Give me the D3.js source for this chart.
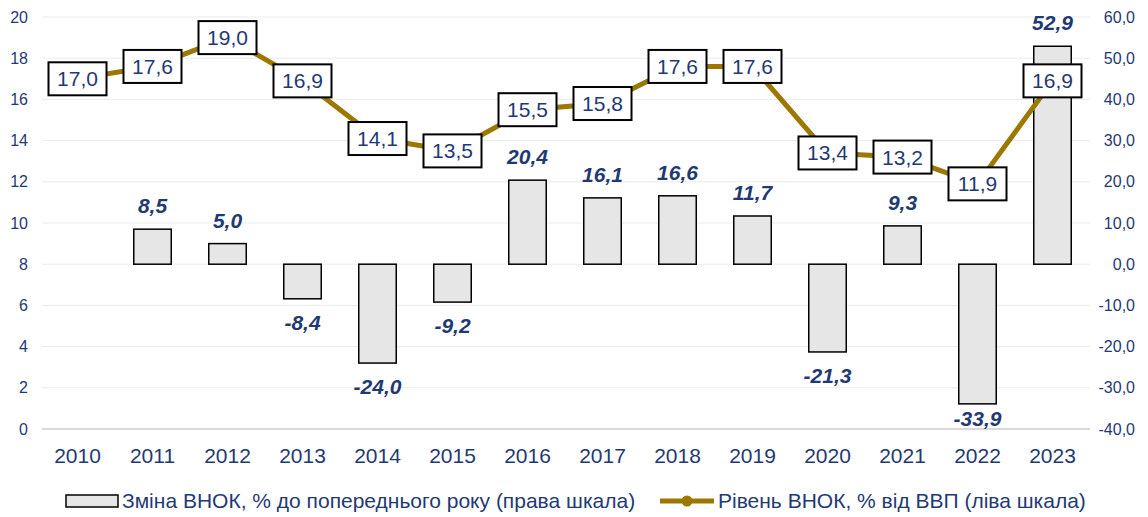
<!DOCTYPE html>
<html>
<head>
<meta charset="utf-8">
<script src="https://cdn.jsdelivr.net/npm/d3@7"></script>
<style>
  body { margin: 0; background: #fff; }
  text { font-family: "Liberation Sans", Arial, sans-serif; }
</style>
</head>
<body>
<svg id="chart"></svg>
<script>
const years = ['2010','2011','2012','2013','2014','2015','2016','2017','2018','2019','2020','2021','2022','2023']
// change of gross fixed capital formation, % to previous year (right scale)
const changeValues = [null, 8.5, 5.0, -8.4, -24.0, -9.2, 20.4, 16.1, 16.6, 11.7, -21.3, 9.3, -33.9, 52.9]
// level of GFCF, % of GDP (left scale)
const levelValues = [17.0, 17.6, 19.0, 16.9, 14.1, 13.5, 15.5, 15.8, 17.6, 17.6, 13.4, 13.2, 11.9, 16.9]
const leftTicks = [0, 2, 4, 6, 8, 10, 12, 14, 16, 18, 20]
const rightTicks = [-40, -30, -20, -10, 0, 10, 20, 30, 40, 50, 60]
const legendBar = 'Зміна ВНОК, % до попереднього року (права шкала)'
const legendLine = 'Рівень ВНОК, % від ВВП (ліва шкала)'

const width = 1148, height = 517
const margin = {top: 17, bottom: 88, left: 40, right: 58}
const navy = '#1f3a73', gold = '#9c7800'
const fmt = v => v.toFixed(1).replace('.', ',')

const svg = d3.select('#chart')
  .attr('width', width)
  .attr('height', height)

const xScale = d3.scaleBand()
  .domain(years)
  .range([margin.left, width - margin.right])
const yLeft = d3.scaleLinear()
  .domain([0, 20])
  .range([height - margin.bottom, margin.top])
const yRight = d3.scaleLinear()
  .domain([-40, 60])
  .range([height - margin.bottom, margin.top])

// gridlines
svg.append('g')
  .selectAll('line')
  .data(leftTicks)
  .enter().append('line')
    .attr('x1', margin.left + 2)
    .attr('x2', width - margin.right)
    .attr('y1', d => yLeft(d))
    .attr('y2', d => yLeft(d))
    .attr('stroke', d => d === 0 ? '#d9d9d9' : '#ebebeb')
    .attr('stroke-width', d => d === 0 ? 2 : 1)

// left axis
const leftAxis = svg.append('g')
  .attr('transform', `translate(${margin.left - 12}, 0)`)
  .call(d3.axisLeft(yLeft).tickValues(leftTicks).tickSize(0).tickPadding(0))
leftAxis.select('.domain').remove()
leftAxis.selectAll('text')
  .attr('fill', navy)
  .style('font-size', '16px')

// right axis
const rightAxis = svg.append('g')
  .attr('transform', `translate(${width - 13}, 0)`)
  .call(d3.axisLeft(yRight).tickValues(rightTicks).tickFormat(fmt).tickSize(0).tickPadding(0))
rightAxis.select('.domain').remove()
rightAxis.selectAll('text')
  .attr('fill', navy)
  .style('font-size', '16px')

// x axis
const xAxis = svg.append('g')
  .attr('transform', `translate(0, ${height - margin.bottom + 13})`)
  .call(d3.axisBottom(xScale).tickSize(0).tickPadding(6))
xAxis.select('.domain').remove()
xAxis.selectAll('text')
  .attr('fill', navy)
  .style('font-size', '21px')

// bars
const barData = years.map((y, i) => ({year: y, v: changeValues[i]})).filter(d => d.v !== null)
const barW = xScale.bandwidth() * 0.5

svg.append('g')
  .selectAll('rect')
  .data(barData)
  .enter().append('rect')
    .attr('x', d => xScale(d.year) + (xScale.bandwidth() - barW) / 2)
    .attr('y', d => yRight(Math.max(0, d.v)))
    .attr('width', barW)
    .attr('height', d => Math.abs(yRight(d.v) - yRight(0)))
    .attr('fill', '#e6e6e6')
    .attr('stroke', '#000')
    .attr('stroke-width', 1.5)

// line
const cx = y => xScale(y) + xScale.bandwidth() / 2
const line = d3.line()
  .x((d, i) => cx(years[i]))
  .y(d => yLeft(d))

svg.append('path')
  .datum(levelValues)
  .attr('d', line)
  .attr('fill', 'none')
  .attr('stroke', gold)
  .attr('stroke-width', 5)

// line labels in boxes
const boxes = svg.append('g')
  .selectAll('g')
  .data(levelValues)
  .enter().append('g')
    .attr('transform', (d, i) => `translate(${cx(years[i])}, ${yLeft(d)})`)
boxes.append('rect')
  .attr('x', -29)
  .attr('y', -16.5)
  .attr('width', 58)
  .attr('height', 33)
  .attr('fill', '#fff')
  .attr('stroke', '#000')
  .attr('stroke-width', 2)
boxes.append('text')
  .attr('text-anchor', 'middle')
  .attr('dy', 7.5)
  .attr('fill', navy)
  .style('font-size', '21px')
  .text(d => fmt(d))

// bar labels
svg.append('g')
  .selectAll('text')
  .data(barData)
  .enter().append('text')
    .attr('x', d => cx(d.year))
    .attr('y', d => d.v >= 0 ? yRight(d.v) - 16 : Math.min(yRight(d.v) + 31, 426))
    .attr('text-anchor', 'middle')
    .attr('fill', navy)
    .style('font-size', '21px')
    .style('font-weight', 'bold')
    .style('font-style', 'italic')
    .text(d => fmt(d.v))

// legend
const legend = svg.append('g')
  .attr('transform', `translate(0, ${height - 16})`)
legend.append('rect')
  .attr('x', 66)
  .attr('y', -6)
  .attr('width', 52)
  .attr('height', 12)
  .attr('fill', '#e6e6e6')
  .attr('stroke', '#000')
  .attr('stroke-width', 1.5)
legend.append('text')
  .attr('x', 122)
  .attr('dy', 7)
  .attr('fill', navy)
  .style('font-size', '21px')
  .text(legendBar)
legend.append('line')
  .attr('x1', 660)
  .attr('x2', 714)
  .attr('stroke', gold)
  .attr('stroke-width', 5)
legend.append('circle')
  .attr('cx', 687)
  .attr('r', 5.5)
  .attr('fill', gold)
legend.append('text')
  .attr('x', 718)
  .attr('dy', 7)
  .attr('fill', navy)
  .style('font-size', '21px')
  .text(legendLine)
</script>
</body>
</html>
